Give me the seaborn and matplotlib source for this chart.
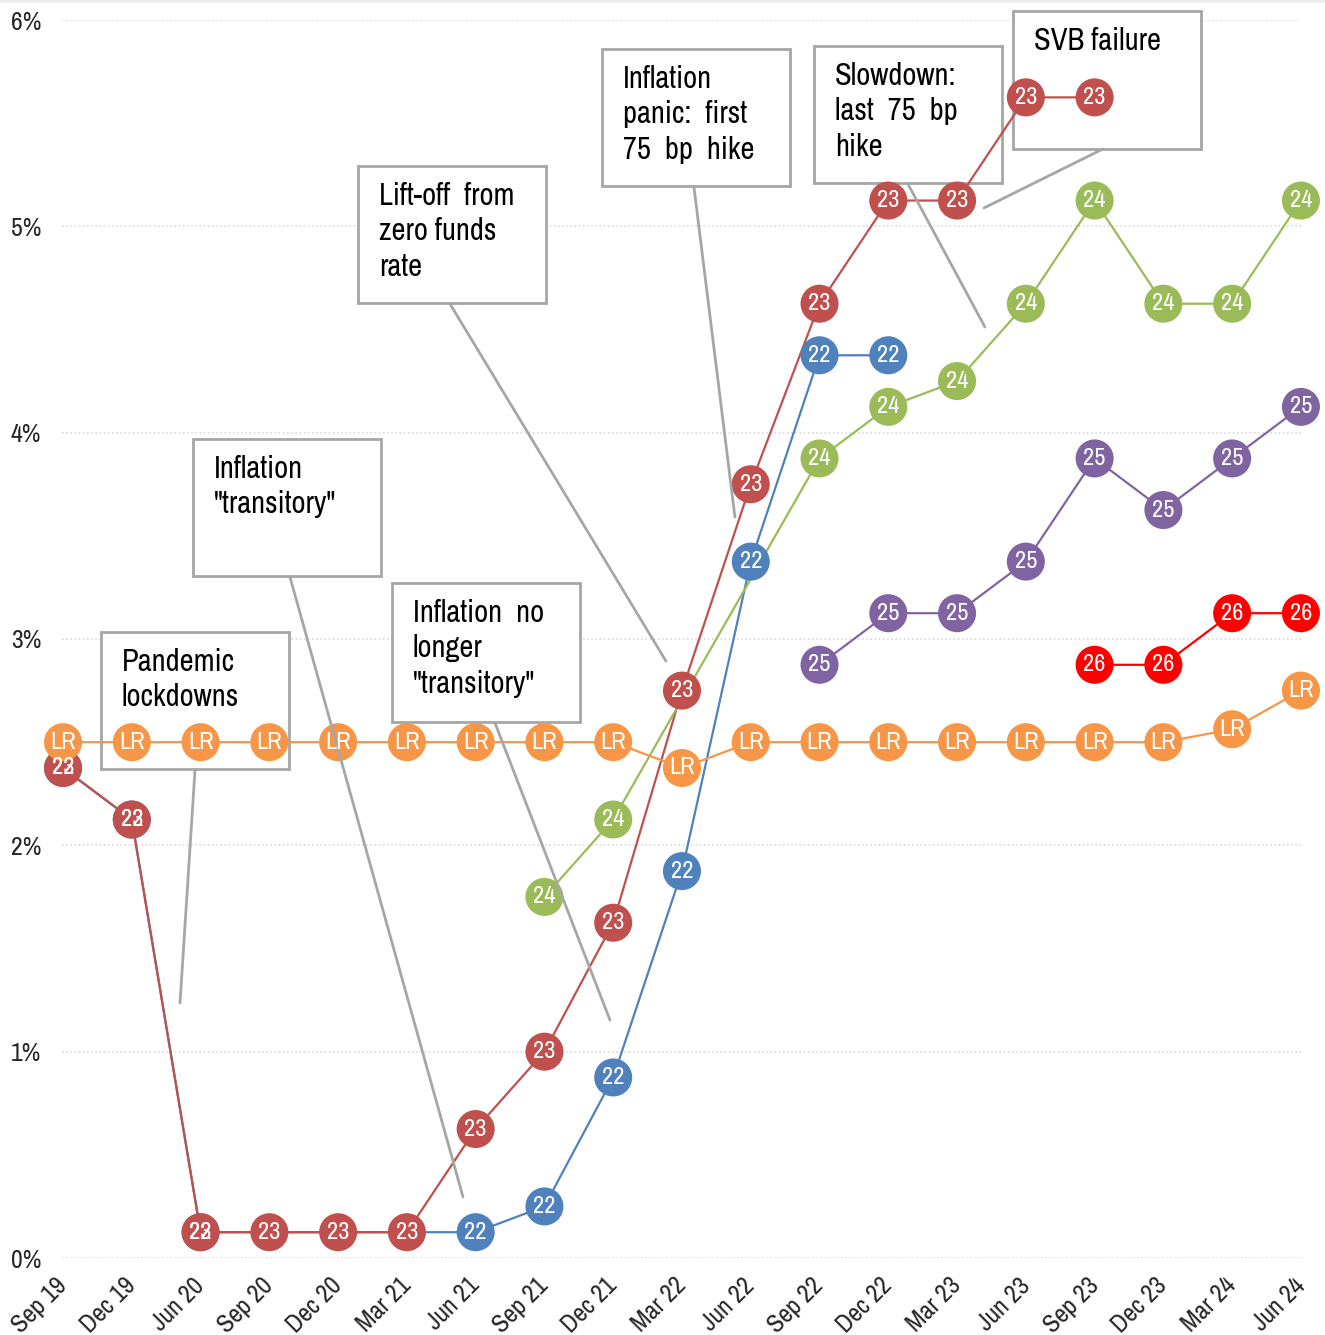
import matplotlib
matplotlib.use("Agg")
import matplotlib.pyplot as plt
from matplotlib import font_manager as fm
from matplotlib.patches import Rectangle
from matplotlib.lines import Line2D
import numpy as np
import pandas as pd
import seaborn as sns

# Quarterly FOMC projection dates (x axis)
quarters = ["Sep 19", "Dec 19", "Jun 20", "Sep 20", "Dec 20", "Mar 21", "Jun 21",
            "Sep 21", "Dec 21", "Mar 22", "Jun 22", "Sep 22", "Dec 22", "Mar 23",
            "Jun 23", "Sep 23", "Dec 23", "Mar 24", "Jun 24"]

N = None
# Median projected fed funds rate (%) for the end of each year
fed_2022 = [2.375, 2.125, 0.125, N, N, N, 0.125, 0.25, 0.875, 1.875, 3.375,
            4.375, 4.375, N, N, N, N, N, N]
fed_2023 = [2.375, 2.125, 0.125, 0.125, 0.125, 0.125, 0.625, 1.0, 1.625, 2.75,
            3.75, 4.625, 5.125, 5.125, 5.625, 5.625, N, N, N]
fed_2024 = [N, N, N, N, N, N, N, 1.75, 2.125, N, N, 3.875, 4.125, 4.25, 4.625,
            5.125, 4.625, 4.625, 5.125]
fed_2025 = [N, N, N, N, N, N, N, N, N, N, N, 2.875, 3.125, 3.125, 3.375, 3.875,
            3.625, 3.875, 4.125]
fed_2026 = [N, N, N, N, N, N, N, N, N, N, N, N, N, N, N, 2.875, 2.875, 3.125,
            3.125]
longer_run = [2.5, 2.5, 2.5, 2.5, 2.5, 2.5, 2.5, 2.5, 2.5, 2.375, 2.5, 2.5, 2.5,
              2.5, 2.5, 2.5, 2.5, 2.5625, 2.75]

series_names = ["22", "23", "24", "25", "26", "LR"]
series_values = [fed_2022, fed_2023, fed_2024, fed_2025, fed_2026, longer_run]
palette = {"22": "#4F81BD", "23": "#C0504D", "24": "#9BBB59",
           "25": "#8064A2", "26": "#FF0000", "LR": "#F79646"}

frames = []
for name, vals in zip(series_names, series_values):
    frames.append(pd.DataFrame({"pos": np.arange(len(quarters)),
                                "rate": pd.array(vals, dtype="Float64"),
                                "series": name}))
df = pd.concat(frames, ignore_index=True).dropna()
df["rate"] = df["rate"].astype(float)

# Event annotations: text, box (x0, x1, y_top, y_bottom) and leader line
events = [
    ("Pandemic\nlockdowns", (0.552, 3.286, 3.034, 2.370), ((1.919, 2.365), (1.701, 1.236))),
    ("Inflation\n\"transitory\"", (1.890, 4.623, 3.969, 3.305), ((3.300, 3.300), (5.816, 0.296))),
    ("Inflation  no\nlonger\n\"transitory\"", (4.783, 7.517, 3.271, 2.598), ((6.281, 2.593), (7.953, 1.153))),
    ("Lift-off  from\nzero funds\nrate", (4.289, 7.022, 5.293, 4.628), ((5.627, 4.624), (8.767, 2.893))),
    ("Inflation\npanic:  first\n75  bp  hike", (7.837, 10.570, 5.860, 5.196), ((9.174, 5.191), (9.770, 3.591))),
    ("Slowdown:\nlast  75  bp\nhike", (10.919, 13.652, 5.874, 5.210), ((12.286, 5.205), (13.405, 4.512))),
    ("SVB failure", (13.812, 16.546, 6.044, 5.375), ((15.121, 5.375), (13.391, 5.089))),
]


def narrow_family():
    """Return a narrow sans family if one is installed, else a compact one."""
    entries = fm.fontManager.ttflist
    for f in entries:
        if "Narrow" in f.name or "Condensed" in f.name:
            return f.name, "normal"
    for f in entries:
        if f.name == "DejaVu Sans" and str(f.stretch) in ("condensed", "semi-condensed"):
            return "DejaVu Sans", "condensed"
    return "Liberation Sans", "normal"


sns.set_style("white")
family, stretch = narrow_family()
plt.rcParams["font.family"] = [family, "DejaVu Sans"]
plt.rcParams["font.stretch"] = stretch

W, H = 1325, 1335
fig = plt.figure(figsize=(W / 100, H / 100), dpi=100)
ax = fig.add_axes([62 / W, 77 / H, 1241 / W, 1238 / H])

ax.set_xlim(-0.015, 18.03)
ax.set_ylim(0, 6)
ax.set_axisbelow(True)

sns.lineplot(data=df, x="pos", y="rate", hue="series", hue_order=series_names,
             palette=palette, estimator=None, linewidth=1.6, legend=False,
             ax=ax, zorder=2)
sns.scatterplot(data=df, x="pos", y="rate", hue="series", hue_order=series_names,
                palette=palette, s=750, linewidth=0, alpha=1, legend=False,
                ax=ax, zorder=3)
for coll in ax.collections:
    coll.set_clip_on(False)
for line in ax.lines:
    line.set_clip_on(False)
for _, row in df.iterrows():
    ax.text(row["pos"], row["rate"], row["series"], color="white",
            ha="center", va="center", fontsize=17.5, zorder=6, clip_on=False)

# Horizontal dotted grid
ax.yaxis.grid(True, color="#D9D9D9", linestyle=(0, (1, 1.5)), linewidth=1.2)
ax.xaxis.grid(False)
for s in ax.spines.values():
    s.set_visible(False)

ax.set_yticks(np.arange(0, 7, 1))
ax.set_yticklabels([f"{v}%" for v in range(7)])
ax.set_xticks(np.arange(len(quarters)))
ax.set_xticklabels(quarters, rotation=45, ha="right", va="center",
                   rotation_mode="anchor")
ax.tick_params(axis="y", length=0, pad=15, labelsize=18.5)
ax.tick_params(axis="x", length=0, pad=17, labelsize=18.5)
ax.set_xlabel("")
ax.set_ylabel("")

box_color = "#A6A6A6"
for text, (x0, x1, yt, yb), (p0, p1) in events:
    ax.add_patch(Rectangle((x0, yb), x1 - x0, yt - yb, facecolor="white",
                           edgecolor=box_color, linewidth=2, zorder=1.5,
                           clip_on=False))
    ax.text(x0 + 21 / 68.78, yt - 16 / 206.33, text, ha="left", va="top",
            fontsize=22, linespacing=1.32, color="black", zorder=1.6,
            clip_on=False)
    ax.add_line(Line2D([p0[0], p1[0]], [p0[1], p1[1]], color=box_color,
                       linewidth=2, zorder=4, clip_on=False))

# Thin light band along the top edge of the figure
fig.add_artist(Rectangle((0, 1 - 3 / H), 1, 3 / H, transform=fig.transFigure,
                         facecolor="#EFEFEF", edgecolor="none"))

fig.savefig("out.png", dpi=100)
